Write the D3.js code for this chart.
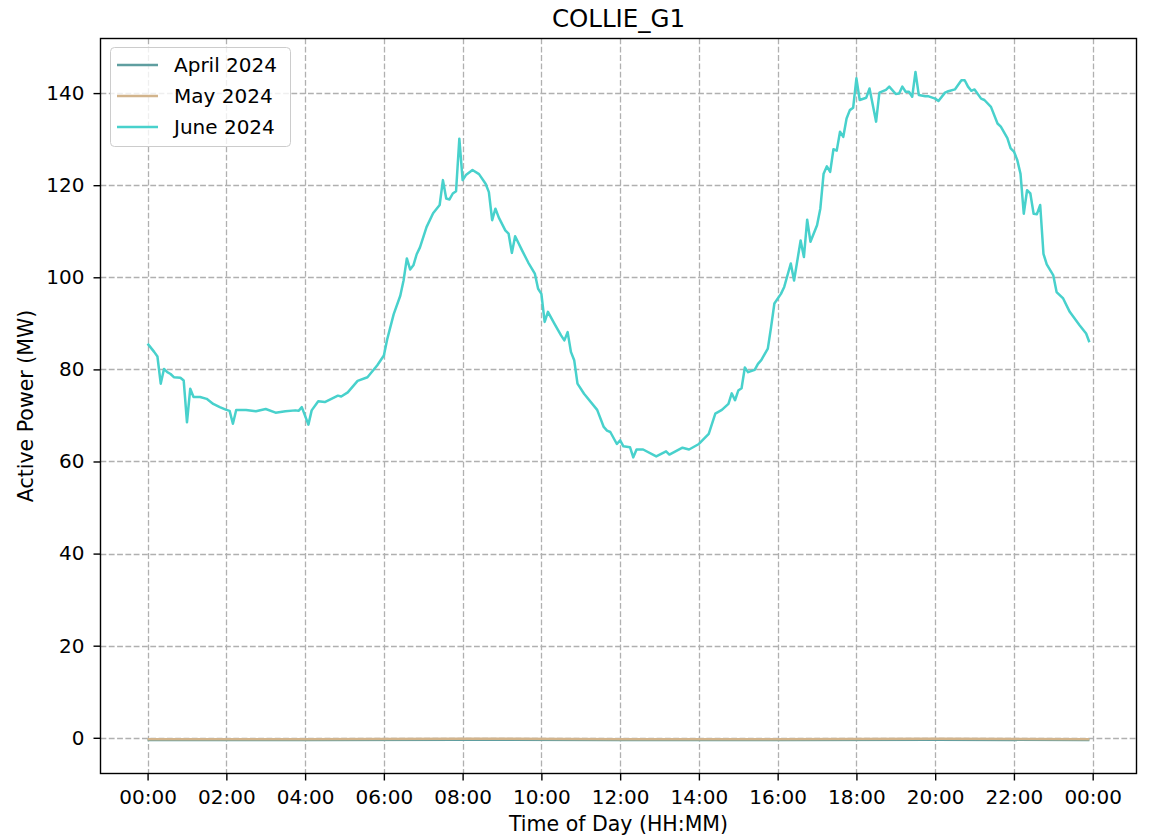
<!DOCTYPE html>
<html>
<head>
<meta charset="utf-8">
<script src="https://cdn.jsdelivr.net/npm/d3@7"></script>
<style>
  body { margin: 0; background: #fff; }
  svg text { font-family: "DejaVu Sans", sans-serif; fill: #000; }
</style>
</head>
<body>
<svg id="chart" width="1152" height="838"></svg>
<script>
// series names and colours
var seriesNames = ["April 2024", "May 2024", "June 2024"];
var seriesColors = ["#5f9ea0", "#d2b48c", "#48d1cc"];

// April / May sit flat just under zero
var aprilTimes = ["00:00", "04:00", "08:00", "12:00", "16:00", "20:00", "23:55"];
var aprilValues = [-0.5, -0.5, -0.4, -0.5, -0.5, -0.4, -0.5];
var mayTimes = ["00:00", "04:00", "08:00", "12:00", "16:00", "20:00", "23:55"];
var mayValues = [-0.3, -0.3, -0.2, -0.3, -0.3, -0.2, -0.3];

// June
var juneTimes = [
  "00:00","00:10","00:15","00:20","00:25","00:30","00:35","00:40","00:50","00:55",
  "01:00","01:05","01:10","01:20","01:30","01:40","01:50","02:00","02:05","02:10",
  "02:15","02:30","02:45","03:00","03:15","03:30","03:45","03:50","03:55","04:05",
  "04:10","04:20","04:30","04:40","04:50","04:55","05:05","05:20","05:35","05:50",
  "06:00","06:05","06:15","06:25","06:30","06:35","06:40","06:45","06:50","06:55",
  "07:05","07:15","07:25","07:30","07:35","07:40","07:45","07:50","07:55","08:00",
  "08:05","08:15","08:25","08:35","08:40","08:45","08:50","08:55","09:05","09:10",
  "09:15","09:20","09:30","09:40","09:50","09:55","10:00","10:05","10:10","10:20",
  "10:30","10:35","10:40","10:45","10:50","10:55","11:05","11:25","11:35","11:40",
  "11:45","11:55","12:00","12:05","12:15","12:20","12:25","12:35","12:55","13:10",
  "13:15","13:35","13:45","14:00","14:15","14:25","14:35","14:45","14:50","14:55",
  "15:00","15:05","15:10","15:15","15:25","15:30","15:35","15:45","15:50","15:55",
  "16:05","16:10","16:20","16:25","16:35","16:40","16:45","16:50","17:00","17:05",
  "17:10","17:15","17:20","17:25","17:30","17:35","17:40","17:45","17:50","17:55",
  "18:00","18:05","18:15","18:20","18:30","18:35","18:45","18:50","19:00","19:05",
  "19:10","19:15","19:20","19:25","19:30","19:35","19:45","19:50","20:00","20:05",
  "20:15","20:20","20:30","20:40","20:45","20:50","20:55","21:00","21:10","21:15",
  "21:25","21:35","21:40","21:50","21:55","22:00","22:05","22:10","22:15","22:20",
  "22:25","22:30","22:35","22:40","22:45","22:50","23:00","23:05","23:15","23:25",
  "23:40","23:50","23:55"
];
var juneValues = [
  85.6,83.8,82.8,76.9,80.1,79.4,79.0,78.3,78.2,77.6,
  68.5,75.8,74.0,74.0,73.6,72.5,71.8,71.2,71.0,68.2,
  71.2,71.2,70.9,71.4,70.6,70.9,71.1,71.0,71.8,68.0,
  71.1,73.1,72.9,73.6,74.3,74.1,75.0,77.5,78.3,80.9,
  83.0,86.5,92.0,96.0,99.3,104.1,101.7,102.6,105.0,106.5,
  110.9,113.9,115.7,121.1,117.1,116.9,118.2,118.7,130.1,121.1,
  122.2,123.3,122.4,120.3,118.5,112.4,114.9,113.0,110.2,109.5,
  105.3,108.9,106.0,103.2,100.8,97.5,96.4,90.3,92.5,89.9,
  87.4,86.3,88.1,83.8,82.0,76.9,74.7,71.2,67.5,66.7,
  66.4,63.8,64.6,63.3,63.1,60.9,62.6,62.6,61.1,62.2,
  61.5,63.0,62.6,63.8,66.0,70.4,71.2,72.5,74.8,73.3,
  75.4,75.9,80.4,79.4,79.9,81.2,82.0,84.5,89.2,94.3,
  96.4,97.9,103.0,99.3,108.0,104.4,112.5,107.7,111.3,114.9,
  122.5,124.1,122.9,127.8,127.5,131.6,130.5,134.5,136.3,136.8,
  143.2,138.5,139.0,141.0,133.8,140.1,140.7,141.4,139.8,139.9,
  141.4,140.3,140.3,139.2,144.6,139.6,139.3,139.3,138.8,138.3,
  140.1,140.4,140.8,142.8,142.8,141.4,140.5,140.8,138.8,138.5,
  137.0,133.4,132.7,130.2,128.0,127.3,125.5,122.5,113.8,118.9,
  118.2,113.8,113.7,115.7,105.1,102.8,100.4,96.8,95.4,92.5,
  89.6,87.8,85.9
];

var xTickMinutes = [0, 120, 240, 360, 480, 600, 720, 840, 960, 1080, 1200, 1320, 1440];
var yTicks = [0, 20, 40, 60, 80, 100, 120, 140];

function toMinutes(s) {
  var p = s.split(":");
  return +p[0] * 60 + +p[1];
}
function fmtTime(m) {
  var h = Math.floor(m / 60) % 24, mm = m % 60;
  return (h < 10 ? "0" : "") + h + ":" + (mm < 10 ? "0" : "") + mm;
}

var series = [
  { times: aprilTimes, values: aprilValues },
  { times: mayTimes, values: mayValues },
  { times: juneTimes, values: juneValues }
].map(function(s, i) {
  return {
    name: seriesNames[i],
    color: seriesColors[i],
    points: s.times.map(function(t, j) { return { t: toMinutes(t), v: s.values[j] }; })
  };
});

// plot box (avoid "top" - it's window.top)
var box = { left: 100.5, right: 1136.5, top: 38.5, bottom: 773.5 };

// matplotlib-style 5% margins around the data
var allPts = d3.merge(series.map(function(s) { return s.points; }));
var tExt = d3.extent(allPts, function(d) { return d.t; });
var vExt = d3.extent(allPts, function(d) { return d.v; });
var tPad = (tExt[1] - tExt[0]) * 0.05, vPad = (vExt[1] - vExt[0]) * 0.05;

var x = d3.scaleLinear().domain([tExt[0] - tPad, tExt[1] + tPad]).range([box.left, box.right]);
var y = d3.scaleLinear().domain([vExt[0] - vPad, vExt[1] + vPad]).range([box.bottom, box.top]);

var svg = d3.select("#chart");

// grid
var grid = svg.append("g")
  .attr("stroke", "#b0b0b0")
  .attr("stroke-width", 1.3)
  .attr("stroke-dasharray", "5.8,2.5");
xTickMinutes.forEach(function(m) {
  var px = Math.round(x(m)) + 0.5;
  grid.append("line").attr("x1", px).attr("x2", px).attr("y1", box.top).attr("y2", box.bottom);
});
yTicks.forEach(function(v) {
  var py = Math.round(y(v)) + 0.5;
  grid.append("line").attr("x1", box.left).attr("x2", box.right).attr("y1", py).attr("y2", py);
});

// lines
var line = d3.line()
  .x(function(d) { return x(d.t); })
  .y(function(d) { return y(d.v); });

svg.append("g").selectAll("path")
  .data(series)
  .enter().append("path")
    .attr("d", function(d) { return line(d.points); })
    .attr("fill", "none")
    .attr("stroke", function(d) { return d.color; })
    .attr("stroke-width", 2.5)
    .attr("stroke-linejoin", "round");

// axes
var xAxis = d3.axisBottom(x)
  .tickValues(xTickMinutes)
  .tickFormat(fmtTime)
  .tickSize(7)
  .tickPadding(9);
var gx = svg.append("g")
  .attr("transform", "translate(0," + box.bottom + ")")
  .call(xAxis);

var yAxis = d3.axisLeft(y)
  .tickValues(yTicks)
  .tickSize(7)
  .tickPadding(9);
var gy = svg.append("g")
  .attr("transform", "translate(" + box.left + ",0)")
  .call(yAxis);

[gx, gy].forEach(function(g) {
  g.select(".domain").remove();
  g.selectAll(".tick line").attr("stroke", "#000").attr("stroke-width", 1.4);
  g.selectAll(".tick text")
    .attr("font-size", "20px")
    .attr("font-family", "DejaVu Sans, sans-serif")
    .attr("fill", "#000");
});

// frame
svg.append("rect")
  .attr("x", box.left).attr("y", box.top)
  .attr("width", box.right - box.left).attr("height", box.bottom - box.top)
  .attr("fill", "none")
  .attr("stroke", "#000")
  .attr("stroke-width", 1.4);

// titles
svg.append("text")
  .attr("x", (box.left + box.right) / 2).attr("y", 27)
  .attr("text-anchor", "middle")
  .attr("font-size", "24.5px")
  .text("COLLIE_G1");

svg.append("text")
  .attr("x", (box.left + box.right) / 2).attr("y", 831)
  .attr("text-anchor", "middle")
  .attr("font-size", "20.5px")
  .text("Time of Day (HH:MM)");

svg.append("text")
  .attr("transform", "translate(33," + ((box.top + box.bottom) / 2) + ") rotate(-90)")
  .attr("text-anchor", "middle")
  .attr("font-size", "20.5px")
  .text("Active Power (MW)");

// legend
var legend = svg.append("g").attr("transform", "translate(110,47)");
legend.append("rect")
  .attr("x", 0.5).attr("y", 0.5)
  .attr("width", 180).attr("height", 99)
  .attr("rx", 4)
  .attr("fill", "#fff")
  .attr("fill-opacity", 0.8)
  .attr("stroke", "#cccccc");
var item = legend.selectAll("g.item")
  .data(series)
  .enter().append("g")
    .attr("class", "item")
    .attr("transform", function(d, i) { return "translate(0," + (18 + i * 31) + ")"; });
item.append("line")
  .attr("x1", 7).attr("x2", 48)
  .attr("stroke", function(d) { return d.color; })
  .attr("stroke-width", 2.5);
item.append("text")
  .attr("x", 64).attr("dy", "0.35em")
  .attr("font-size", "20px")
  .text(function(d) { return d.name; });
</script>
</body>
</html>
